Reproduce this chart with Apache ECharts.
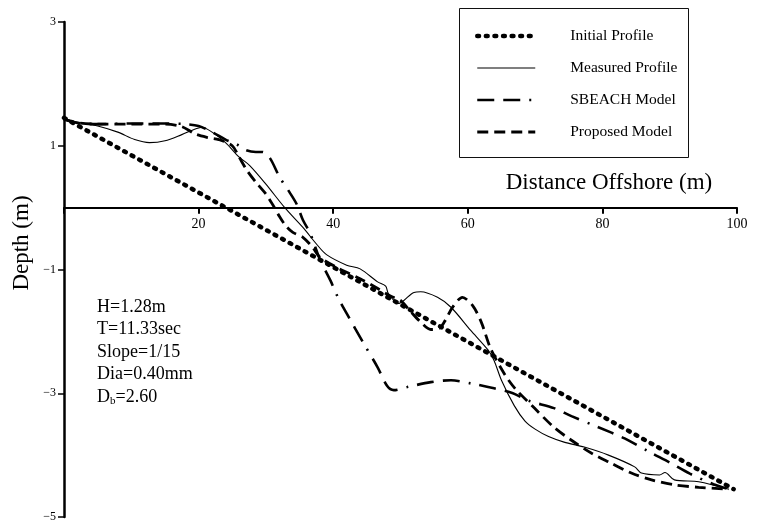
<!DOCTYPE html>
<html><head><meta charset="utf-8">
<script src="https://cdn.jsdelivr.net/npm/echarts@6/dist/echarts.min.js"></script>
<style>html,body{margin:0;padding:0;background:#fff}#c{width:757px;height:521px}</style>
</head><body><div id="c"></div>
<script>
// ---- data ----
const seriesNames = ['Initial Profile', 'Measured Profile', 'SBEACH Model', 'Proposed Model'];
const xTickLabels = ['', '20', '40', '60', '80', '100'];
const yTickValues = [-5, -3, -1, 1, 3];
const initialProfile = [[0, 1.45], [99.5, -4.55]];
const measuredProfile = [
  [0, 1.43], [2, 1.38], [5, 1.32], [8, 1.22], [10.5, 1.1], [12.7, 1.05], [15, 1.08], [17.5, 1.18],
  [19.5, 1.27], [20.5, 1.3], [22, 1.22], [24, 1.05], [26, 0.82], [27.6, 0.68], [30, 0.38], [32.8, 0],
  [35.5, -0.32], [37.6, -0.6], [39, -0.76], [42, -0.93], [44, -0.99], [46.6, -1.2], [47.8, -1.27],
  [48.2, -1.39], [49.7, -1.55], [50.5, -1.5], [52, -1.37], [53, -1.36], [55.5, -1.45], [57.5, -1.61],
  [60.4, -1.98], [63, -2.3], [63.9, -2.47], [65, -2.79], [66.9, -3.2], [68.5, -3.45], [70, -3.58],
  [72, -3.7], [74.3, -3.79], [77.3, -3.87], [80.9, -4.0], [84.8, -4.19], [85.8, -4.29], [88.5, -4.32],
  [89.3, -4.28], [90.7, -4.4], [94.3, -4.43], [98.8, -4.55]
];
const sbeachModel = [
  [0, 1.43], [2, 1.37], [5, 1.35], [10, 1.36], [15, 1.36], [18, 1.35], [20, 1.32], [22, 1.22],
  [24, 1.1], [25.7, 1.02], [27, 0.93], [28.5, 0.9], [29.5, 0.9], [30.6, 0.8], [32, 0.5], [33.5, 0.25],
  [34.6, 0.05], [35.5, -0.2], [36.6, -0.42], [38, -0.83], [39.6, -1.18], [40.7, -1.45], [42, -1.71],
  [44.5, -2.19], [46.6, -2.58], [48, -2.88], [49, -2.95], [51, -2.9], [54.5, -2.82], [57.5, -2.79],
  [60.4, -2.84], [63.9, -2.92], [66.7, -3.0], [69, -3.12], [72.8, -3.24], [75.4, -3.37], [79.4, -3.55],
  [83.3, -3.73], [87, -3.95], [90, -4.12], [93, -4.3], [96.5, -4.47], [98.8, -4.55]
];
const proposedModel = [
  [0, 1.43], [2, 1.37], [5, 1.35], [10, 1.35], [15, 1.35], [17.5, 1.31], [19.5, 1.19], [21.5, 1.13],
  [23, 1.1], [25, 1.0], [26, 0.82], [27.2, 0.6], [28.6, 0.4], [30, 0.22], [31, 0.05], [32, -0.14],
  [33, -0.3], [34, -0.4], [35.5, -0.48], [37, -0.65], [38, -0.8], [40.6, -0.97], [44, -1.15],
  [46.5, -1.3], [48.5, -1.43], [50, -1.5], [51.5, -1.68], [53, -1.85], [54.5, -1.97], [55.8, -1.95],
  [56.5, -1.85], [57.8, -1.6], [59.2, -1.45], [60.7, -1.58], [62, -1.85], [63.4, -2.28], [65.4, -2.68],
  [67, -2.92], [69.9, -3.24], [72.8, -3.55], [75.4, -3.76], [78.4, -3.97], [81.3, -4.13], [84.3, -4.29],
  [87.3, -4.4], [90.7, -4.48], [94.3, -4.52], [98.8, -4.55]
];
const annotationLines = ['H=1.28m', 'T=11.33sec', 'Slope=1/15', 'Dia=0.40mm'];
const annotationLast = { main: 'D', sub: 'b', rest: '=2.60' };
const xAxisTitle = 'Distance Offshore (m)';
const yAxisTitle = 'Depth (m)';

// ---- chart ----
const SERIF = '"Liberation Serif", "Times New Roman", serif';
const chart = echarts.init(document.getElementById('c'), null, { renderer: 'canvas' });

const W = 757, H = 521;
const gridBox = { left: 64, right: 20, top: 22, bottom: 4 };
const yMin = yTickValues[0], yMax = yTickValues[yTickValues.length - 1];
const plotH = H - gridBox.top - gridBox.bottom;
const zeroOffset = -plotH * (0 - yMin) / (yMax - yMin);

const styles = [
  { width: 4.5, type: [1.8, 6.8], cap: 'round', smooth: false },
  { width: 1.1, type: 'solid', cap: 'butt', smooth: 0.3 },
  { width: 2.6, type: [17, 9, 17, 9, 2, 9], cap: 'butt', smooth: 0.3 },
  { width: 2.8, type: [11, 6], cap: 'butt', smooth: 0.3 }
];
const dataSets = [initialProfile, measuredProfile, sbeachModel, proposedModel];

const graphics = [
  { type: 'rect', shape: { x: 459.5, y: 8.5, width: 229, height: 149 }, style: { fill: 'none', stroke: '#111', lineWidth: 1 } },
  { type: 'text', x: 609, y: 183, style: { text: xAxisTitle, font: '23px ' + SERIF, fill: '#000', align: 'center', verticalAlign: 'middle' } },
  { type: 'text', x: 22, y: 243, rotation: Math.PI / 2, style: { text: yAxisTitle, font: '23px ' + SERIF, fill: '#000', align: 'center', verticalAlign: 'middle' } }
];
annotationLines.forEach((t, i) => {
  graphics.push({ type: 'text', x: 97, y: 307 + i * 22.5, style: { text: t, font: '18px ' + SERIF, fill: '#000', align: 'left', verticalAlign: 'middle' } });
});
graphics.push({
  type: 'text', x: 97, y: 307 + 4 * 22.5,
  style: {
    text: '{m|' + annotationLast.main + '}{s|' + annotationLast.sub + '}{m|' + annotationLast.rest + '}',
    align: 'left', verticalAlign: 'middle',
    rich: {
      m: { font: '18px ' + SERIF, fill: '#000' },
      s: { font: '11px ' + SERIF, fill: '#000', padding: [8, 0, 0, 0] }
    }
  }
});

chart.setOption({
  animation: false,
  backgroundColor: '#fff',
  grid: Object.assign({ containLabel: false, outerBoundsMode: 'none' }, gridBox),
  legend: {
    data: seriesNames.map((name, i) => ({
      name,
      lineStyle: { width: styles[i].width, type: styles[i].type, cap: styles[i].cap, color: '#000' }
    })),
    orient: 'vertical',
    left: 475, top: 28,
    itemWidth: 58, itemHeight: 14, itemGap: 16,
    padding: 0,
    selectedMode: false,
    itemStyle: { opacity: 0 },
    textStyle: { fontFamily: SERIF, fontSize: 15.5, color: '#000', padding: [0, 0, 0, 30] }
  },
  xAxis: {
    type: 'value', min: 0, max: 100, interval: 20,
    offset: zeroOffset,
    axisLine: { onZero: false, lineStyle: { color: '#000', width: 2 } },
    axisTick: { show: true, length: 6, lineStyle: { color: '#000', width: 2 } },
    axisLabel: { fontFamily: SERIF, fontSize: 14, color: '#000', margin: 10,
      formatter: v => xTickLabels[Math.round(v / 20)] },
    splitLine: { show: false }
  },
  yAxis: {
    type: 'value', min: yMin, max: yMax, interval: 2,
    axisLine: { onZero: false, lineStyle: { color: '#000', width: 2.5 } },
    axisTick: { show: true, length: 6, lineStyle: { color: '#000', width: 1.5 } },
    axisLabel: { fontFamily: SERIF, fontSize: 12, color: '#000', margin: 8,
      formatter: v => String(v).replace('-', '\u2212') },
    splitLine: { show: false }
  },
  graphic: graphics,
  series: seriesNames.map((name, i) => ({
    name, type: 'line', data: dataSets[i], symbol: 'none', smooth: styles[i].smooth,
    lineStyle: { color: '#000', width: styles[i].width, type: styles[i].type, cap: styles[i].cap },
    z: 2 + i
  }))
});
</script></body></html>
